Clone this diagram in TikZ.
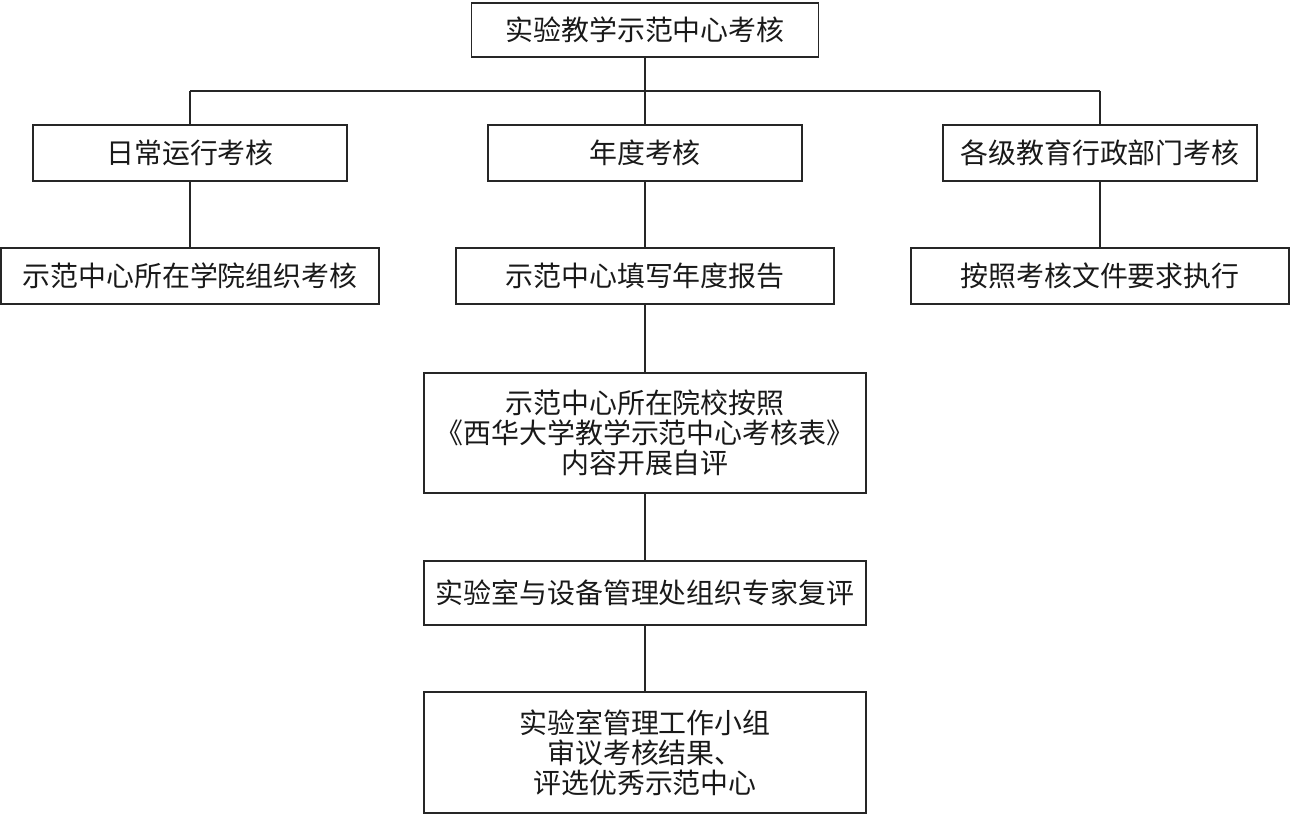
\documentclass[tikz,border=0pt]{standalone}
\usepackage{fontspec}
\newfontfamily\cjk{Noto Sans CJK SC}
\begin{document}
\begin{tikzpicture}[x=0.02cm,y=-0.02cm,line width=0.9pt,
kuang/.style={draw=black!85,text=black!90,align=center,inner sep=0pt,font=\cjk\fontsize{15.9}{17}\selectfont},
xian/.style={draw=black!85}]
\useasboundingbox (0,0) rectangle (1290,814);
\node[kuang,minimum width=6.94cm,minimum height=1.08cm](top) at (645,30){实验教学示范中心考核};
\node[kuang,minimum width=6.28cm,minimum height=1.12cm](rc) at (190,153){日常运行考核};
\node[kuang,minimum width=6.28cm,minimum height=1.12cm](nd) at (645,153){年度考核};
\node[kuang,minimum width=6.28cm,minimum height=1.12cm](gj) at (1100,153){各级教育行政部门考核};
\node[kuang,minimum width=7.56cm,minimum height=1.12cm](xy) at (190,276){示范中心所在学院组织考核};
\node[kuang,minimum width=7.56cm,minimum height=1.12cm](bg) at (645,276){示范中心填写年度报告};
\node[kuang,minimum width=7.56cm,minimum height=1.12cm](zx) at (1100,276){按照考核文件要求执行};
\node[kuang,minimum width=8.84cm,minimum height=2.4cm](zp) at (645,433){示范中心所在院校按照\\\kern-0.36em《西华大学教学示范中心考核表》\kern-0.36em\\内容开展自评};
\node[kuang,minimum width=8.84cm,minimum height=1.28cm](fp) at (645,593){实验室与设备管理处组织专家复评};
\node[kuang,minimum width=8.84cm,minimum height=2.42cm](sy) at (645,752.5){实验室管理工作小组\\审议考核结果、\\评选优秀示范中心};
\coordinate (jl) at (190,91);
\coordinate (jr) at (1100,91);
\draw[xian](top)--(nd);
\draw[xian](jl)--(jr);
\draw[xian](jl)--(rc);
\draw[xian](jr)--(gj);
\draw[xian](rc)--(xy);
\draw[xian](nd)--(bg);
\draw[xian](gj)--(zx);
\draw[xian](bg)--(zp);
\draw[xian](zp)--(fp);
\draw[xian](fp)--(sy);
\end{tikzpicture}
\end{document}
